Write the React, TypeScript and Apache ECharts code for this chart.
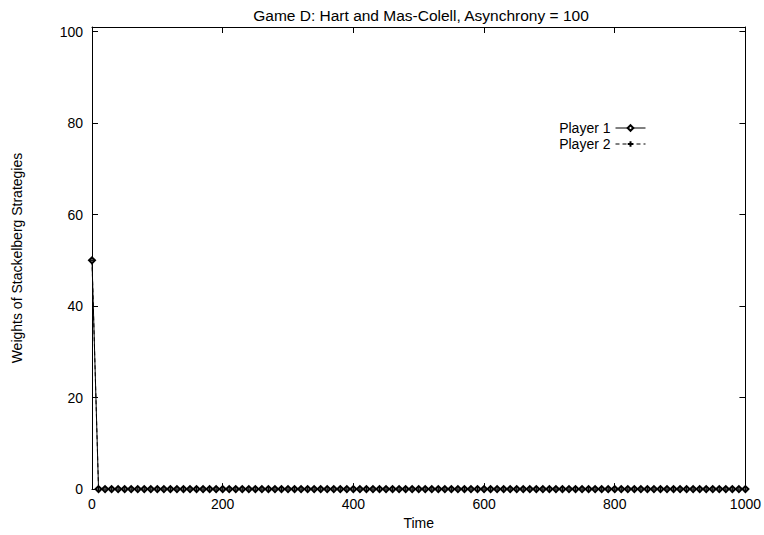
import React, { useEffect, useRef } from "react";
import * as echarts from "echarts";

const times = [
  0, 10, 20, 30, 40, 50, 60, 70, 80, 90,
  100, 110, 120, 130, 140, 150, 160, 170, 180, 190,
  200, 210, 220, 230, 240, 250, 260, 270, 280, 290,
  300, 310, 320, 330, 340, 350, 360, 370, 380, 390,
  400, 410, 420, 430, 440, 450, 460, 470, 480, 490,
  500, 510, 520, 530, 540, 550, 560, 570, 580, 590,
  600, 610, 620, 630, 640, 650, 660, 670, 680, 690,
  700, 710, 720, 730, 740, 750, 760, 770, 780, 790,
  800, 810, 820, 830, 840, 850, 860, 870, 880, 890,
  900, 910, 920, 930, 940, 950, 960, 970, 980, 990,
  1000,
];

const player1 = [
  50, 0, 0, 0, 0, 0, 0, 0, 0, 0,
  0, 0, 0, 0, 0, 0, 0, 0, 0, 0,
  0, 0, 0, 0, 0, 0, 0, 0, 0, 0,
  0, 0, 0, 0, 0, 0, 0, 0, 0, 0,
  0, 0, 0, 0, 0, 0, 0, 0, 0, 0,
  0, 0, 0, 0, 0, 0, 0, 0, 0, 0,
  0, 0, 0, 0, 0, 0, 0, 0, 0, 0,
  0, 0, 0, 0, 0, 0, 0, 0, 0, 0,
  0, 0, 0, 0, 0, 0, 0, 0, 0, 0,
  0, 0, 0, 0, 0, 0, 0, 0, 0, 0,
  0,
];

const player2 = [
  50, 0, 0, 0, 0, 0, 0, 0, 0, 0,
  0, 0, 0, 0, 0, 0, 0, 0, 0, 0,
  0, 0, 0, 0, 0, 0, 0, 0, 0, 0,
  0, 0, 0, 0, 0, 0, 0, 0, 0, 0,
  0, 0, 0, 0, 0, 0, 0, 0, 0, 0,
  0, 0, 0, 0, 0, 0, 0, 0, 0, 0,
  0, 0, 0, 0, 0, 0, 0, 0, 0, 0,
  0, 0, 0, 0, 0, 0, 0, 0, 0, 0,
  0, 0, 0, 0, 0, 0, 0, 0, 0, 0,
  0, 0, 0, 0, 0, 0, 0, 0, 0, 0,
  0,
];

const seriesNames = ["Player 1", "Player 2"];
const titleText = "Game D: Hart and Mas-Colell, Asynchrony = 100";
const xName = "Time";
const yName = "Weights of Stackelberg Strategies";

const FONT = "'Liberation Sans', Arial, Helvetica, sans-serif";
const PLUS = "path://M5,0L5,10M0,5L10,5";

export default function App() {
  const ref = useRef<HTMLDivElement>(null);
  useEffect(() => {
    if (!ref.current) return;
    const chart = echarts.init(ref.current, null, { renderer: "svg" });
    const axisCommon = {
      axisLine: { show: true, onZero: false, lineStyle: { color: "#000", width: 1 } },
      axisTick: { show: true, inside: true, length: 6, lineStyle: { color: "#000" } },
      splitLine: { show: false },
    };
    const labelStyle = { color: "#000", fontSize: 14, fontFamily: FONT };
    const yFormatter = (v: number) => (v % 20 === 0 ? String(v) : "");
    chart.setOption({
      animation: false,
      backgroundColor: "#fff",
      title: {
        text: titleText,
        left: 416,
        top: 2,
        textAlign: "center",
        textStyle: { color: "#000", fontSize: 15.5, fontWeight: "normal", fontFamily: FONT },
      },
      legend: {
        orient: "vertical",
        right: 113,
        top: 116,
        align: "right",
        itemWidth: 30,
        itemHeight: 7,
        itemGap: 2,
        lineStyle: { width: 1 },
        textStyle: { color: "#000", fontSize: 14, fontFamily: FONT, padding: [0, 0, 0, 0] },
        data: seriesNames,
      },
      grid: { left: 92, right: 18, top: 27, bottom: 40, containLabel: false },
      xAxis: [
        {
          type: "value",
          min: 0,
          max: 1000,
          interval: 200,
          position: "bottom",
          name: xName,
          nameLocation: "middle",
          nameGap: 22,
          nameTextStyle: labelStyle,
          axisLabel: { ...labelStyle, margin: 8, formatter: (v: number) => String(v) },
          ...axisCommon,
        },
        {
          type: "value",
          min: 0,
          max: 1000,
          interval: 200,
          position: "top",
          axisLabel: { show: false },
          ...axisCommon,
        },
      ],
      yAxis: [
        {
          type: "value",
          min: 0,
          max: 101,
          interval: 20,
          position: "left",
          name: yName,
          nameLocation: "middle",
          nameGap: 68,
          nameTextStyle: labelStyle,
          axisLabel: { ...labelStyle, margin: 9, formatter: yFormatter, showMaxLabel: false },
          ...axisCommon,
        },
        {
          type: "value",
          min: 0,
          max: 101,
          interval: 20,
          position: "right",
          axisLabel: { show: false },
          ...axisCommon,
        },
      ],
      series: [
        {
          name: seriesNames[0],
          type: "line",
          data: times.map((t, i) => [t, player1[i]]),
          symbol: "emptyDiamond",
          symbolSize: 6,
          showAllSymbol: true,
          lineStyle: { color: "#000", width: 1 },
          itemStyle: { color: "#000", borderColor: "#000", borderWidth: 1 },
        },
        {
          name: seriesNames[1],
          type: "line",
          data: times.map((t, i) => [t, player2[i]]),
          symbol: PLUS,
          symbolSize: 6,
          showAllSymbol: true,
          lineStyle: { color: "#000", width: 1, type: [4, 3] },
          itemStyle: { color: "none", borderColor: "#000", borderWidth: 1 },
        },
      ],
    });
    return () => chart.dispose();
  }, []);
  return <div ref={ref} style={{ width: 764, height: 535, position: "absolute", left: 0, top: 0 }} />;
}
